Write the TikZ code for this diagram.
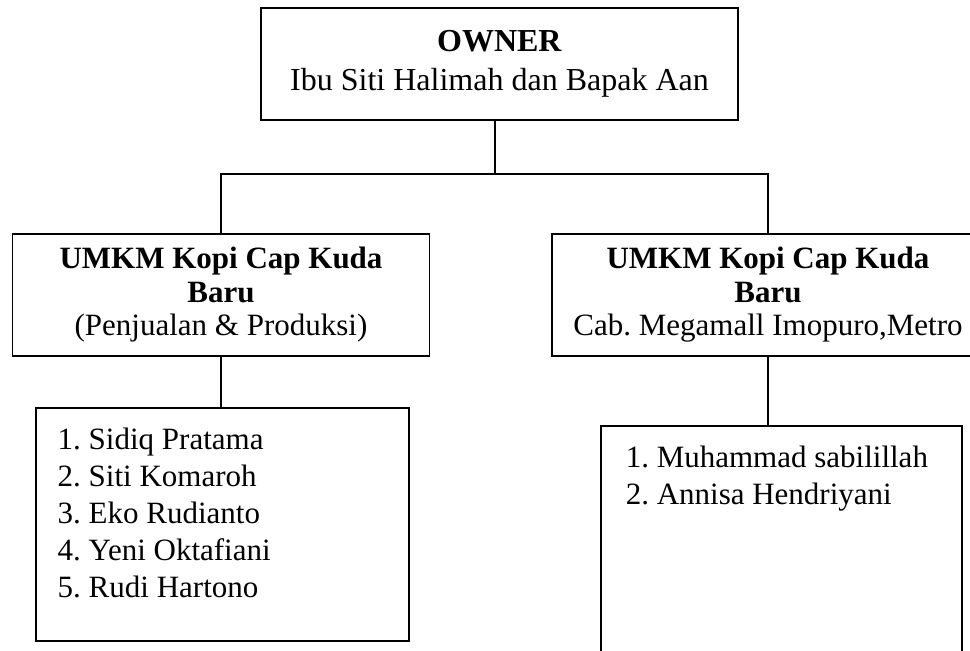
\documentclass[tikz,border=0pt]{standalone}
\usepackage{fontspec}
\setmainfont{Liberation Serif}
\usetikzlibrary{positioning}

\newcommand{\staffnum}[1]{\makebox[15.5pt][l]{#1.}}

\begin{document}
\begin{tikzpicture}[x=0.5pt, y=-0.5pt, line width=0.75pt,
    box/.style={draw, rectangle, inner sep=0pt, align=center},
    ownerbox/.style={box, minimum width=238.5pt, minimum height=56pt,
      font=\fontsize{16}{19.5}\selectfont},
    unitbox/.style={box, minimum width=208.5pt, minimum height=61pt,
      font=\fontsize{15.5}{16.75}\selectfont},
    staffbox/.style={draw, rectangle, inner sep=0pt},
    stafflist/.style={anchor=north west, inner sep=0pt, align=left,
      font=\fontsize{15.5}{18.5}\selectfont},
  ]
  \useasboundingbox (0,0) rectangle (970,651);
  \clip (0,0) rectangle (970,651);

  % owner and the two units
  \node[ownerbox] (owner) at (499.5,64) {\textbf{OWNER}\\Ibu Siti Halimah dan Bapak Aan};
  \node[unitbox] (unitA) at (221,295) {\textbf{UMKM Kopi Cap Kuda}\\\textbf{Baru}\\(Penjualan \& Produksi)};
  \node[unitbox, minimum width=216pt] (unitB) at (768,295) {\textbf{UMKM Kopi Cap Kuda}\\\textbf{Baru}\\Cab.\ Megamall Imopuro,Metro};

  % staff boxes
  \node[staffbox, minimum width=186.5pt, minimum height=116.5pt] (staffA) at (222.5,524.5) {};
  \node[staffbox, minimum width=180.5pt, minimum height=127pt] (staffB) at (781.5,553) {};
  \node[stafflist] (namesA) at (57,427) {\staffnum{1}Sidiq Pratama\\\staffnum{2}Siti Komaroh\\
    \staffnum{3}Eko Rudianto\\\staffnum{4}Yeni Oktafiani\\\staffnum{5}Rudi Hartono};
  \node[stafflist] (namesB) at (625,445) {\staffnum{1}Muhammad sabilillah\\\staffnum{2}Annisa Hendriyani};

  % connectors
  \coordinate (fork) at (495,174);
  \draw (fork |- owner.south) -- (fork);
  \draw (unitA.north) |- (fork) -| (unitB.north);
  \draw (unitA.south) -- (unitA.south |- staffA.north);
  \draw (unitB.south) -- (unitB.south |- staffB.north);
\end{tikzpicture}
\end{document}
